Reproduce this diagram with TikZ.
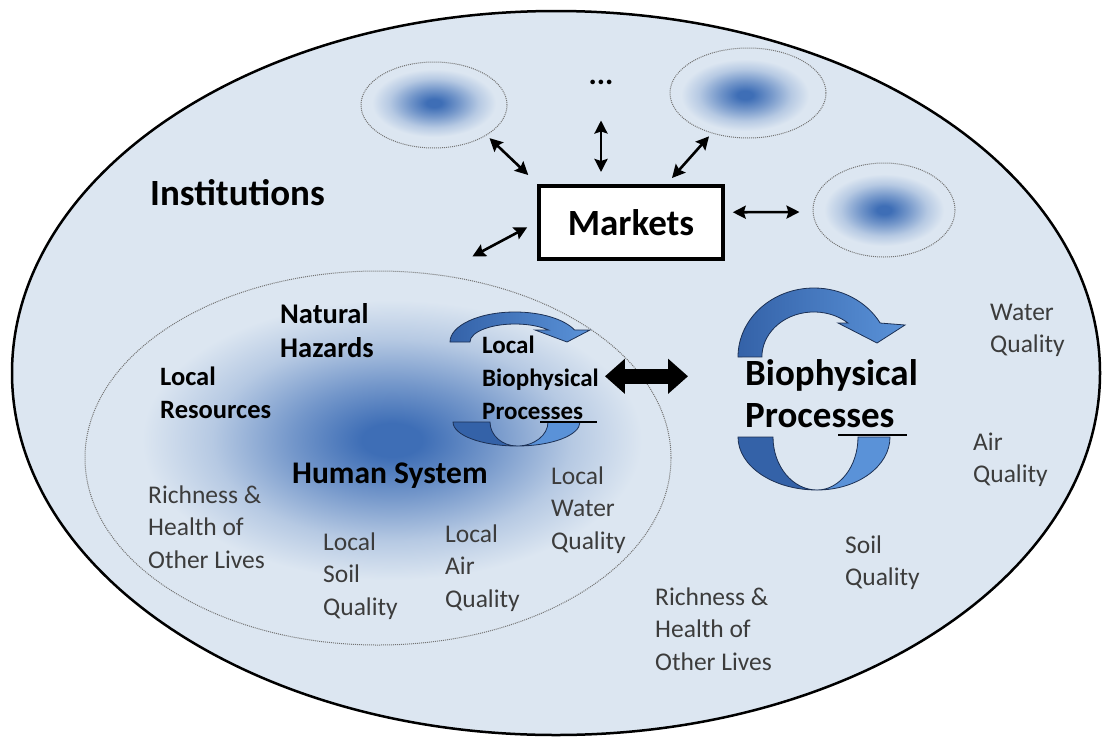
\documentclass[tikz,border=0pt]{standalone}
\usepackage{fontspec}
\setmainfont{Carlito}
\usetikzlibrary{shapes.geometric, arrows.meta, positioning, calc}
\definecolor{instfill}{RGB}{220,230,241}
\definecolor{blobblue}{RGB}{62,110,182}
\colorlet{blobmid}{blobblue!66!instfill}
\colorlet{blobfaint}{blobblue!24!instfill}
\definecolor{arrowdark}{RGB}{52,98,168}
\definecolor{arrowlight}{RGB}{90,146,216}
\definecolor{arrowline}{RGB}{28,48,84}
\definecolor{txtgray}{RGB}{60,60,60}
\pgfdeclareradialshading{blob}{\pgfpoint{0bp}{0bp}}{color(0bp)=(blobblue); color(3bp)=(blobblue); color(10bp)=(blobmid); color(18bp)=(blobfaint); color(25bp)=(instfill); color(50bp)=(instfill)}
\newcommand{\lnstrut}{\rule{0pt}{0.8em}}

\begin{document}
\begin{tikzpicture}[x=1pt, y=-1pt]
    \tikzstyle{sub}=[ellipse, draw=black!55, dash pattern=on 1pt off 1pt, line width=1pt, inner sep=0pt]
    \tikzstyle{link}=[line width=2.6pt, {Stealth[length=13pt,width=13pt,inset=2pt]}-{Stealth[length=13pt,width=13pt,inset=2pt]}]
    \tikzstyle{lbl}=[anchor=north west, inner sep=0pt, align=left, text=txtgray, font=\fontsize{25.5}{32.5}\selectfont]
    \tikzstyle{tag}=[anchor=north west, inner sep=0pt, align=left, text=black, font=\bfseries\fontsize{26.5}{33}\selectfont]
    \tikzstyle{cyc}=[draw=arrowline, line width=0.8pt]

    \useasboundingbox (0,0) rectangle (1107,739);

    % Institutions
    \node[ellipse, draw=black, line width=2.5pt, fill=instfill, inner sep=0pt,
          minimum width=1088pt, minimum height=724pt] (inst) at (556,373) {};
    \node[tag, font=\bfseries\fontsize{37}{40}\selectfont] (instlbl) at (150,175.4) {\lnstrut Institutions};

    % blurred spots
    \shade[shading=blob] (392,440) ellipse [x radius=250, y radius=140];
    \shade[shading=blob] (434,103) ellipse [x radius=62, y radius=34];
    \shade[shading=blob] (745,95) ellipse [x radius=64, y radius=36];
    \shade[shading=blob] (884,210) ellipse [x radius=60, y radius=36];

    % other markets
    \node[sub, minimum width=146pt, minimum height=86pt] (sub1) at (434,105) {};
    \node[sub, minimum width=156pt, minimum height=90pt] (sub2) at (748,93) {};
    \node[sub, minimum width=142pt, minimum height=94pt] (sub3) at (884,210) {};
    \node[inner sep=0pt, font=\bfseries\fontsize{31}{34}\selectfont] (dots) at (601,82) {...};

    % Markets
    \node[draw=black, line width=3.5pt, fill=white, minimum width=184pt, minimum height=73pt,
          font=\bfseries\fontsize{37}{40}\selectfont] (mkt) at (631,222.25) {Markets};

    % Human system
    \node[sub, minimum width=586pt, minimum height=374pt] (hs) at (378,458) {};

    % market links
    \draw[link, shorten <=4pt] (sub1.-30) -- ([shift={(-9,-9)}]mkt.north west);
    \draw[link, shorten <=36pt, shorten >=12pt] (dots.south) -- (dots.south |- mkt.north);
    \draw[link, shorten <=4pt] (sub2.228) -- ([shift={(41,-6)}]mkt.north);
    \draw[link] ([shift={(8,-10)}]mkt.east) -- ([shift={(-13,2)}]sub3.west);
    \draw[link] ([shift={(-10,5)}]mkt.west) -- ([yshift=24pt]hs.62);

    % local cycle
    \draw[cyc, left color=arrowdark, right color=arrowlight] (450,342) arc[start angle=180, end angle=336.4, x radius=65, y radius=30]
        -- (590,330) -- (567,342) -- (535,330) -- (548.5,330)
        arc[start angle=318.2, end angle=180, x radius=45, y radius=18] -- cycle;
    \draw[cyc, fill=arrowdark] (453,422) arc[start angle=180, end angle=90, x radius=64, y radius=24]
        arc[start angle=90, end angle=180, x radius=27, y radius=24] -- cycle;
    \draw[cyc, fill=arrowlight] (580,422) arc[start angle=0, end angle=90, x radius=63, y radius=24]
        arc[start angle=90, end angle=0, x radius=31, y radius=24] -- cycle;
    \draw[line width=1.2pt] (540,422) -- (597,422);

    % big cycle
    \draw[cyc, left color=arrowdark, right color=arrowlight] (738,357) arc[start angle=180, end angle=330.5, x radius=76, y radius=69]
        -- (905,325) -- (877,343) -- (838,323) -- (848,323)
        arc[start angle=311, end angle=180, x radius=52, y radius=45] -- cycle;
    \draw[cyc, fill=arrowdark] (738,437) arc[start angle=180, end angle=90, x radius=79, y radius=53]
        arc[start angle=90, end angle=180, x radius=44, y radius=53] -- cycle;
    \draw[cyc, fill=arrowlight] (890,437) arc[start angle=0, end angle=90, x radius=73, y radius=53]
        arc[start angle=90, end angle=0, x radius=41, y radius=53] -- cycle;
    \draw[line width=1.2pt] (838,435) -- (907,435);

    % labels inside human system
    \node[tag, font=\bfseries\fontsize{28.5}{34}\selectfont] (haz) at (280,300.2) {\lnstrut Natural\\Hazards};
    \node[tag] (res) at (160,363.8) {\lnstrut Local\\Resources};
    \node[tag, font=\bfseries\fontsize{31.5}{36}\selectfont] (human) at (292,457.8) {\lnstrut Human System};
    \node[lbl] (liveL) at (148,482.6) {\lnstrut Richness \&\\Health of\\Other Lives};
    \node[lbl] (soilL) at (323,529.6) {\lnstrut Local\\Soil\\Quality};
    \node[lbl] (airL) at (445,521.6) {\lnstrut Local\\Air\\Quality};
    \node[lbl] (waterL) at (551,463.6) {\lnstrut Local\\Water\\Quality};
    \node[tag, font=\bfseries\fontsize{25}{33}\selectfont] (lbp) at (482,333) {\lnstrut Local\\Biophysical\\Processes};

    % labels outside
    \node[tag, font=\bfseries\fontsize{37}{42}\selectfont] (bp) at (745,355.4) {\lnstrut Biophysical\\Processes};
    \node[lbl] (water) at (990,299.6) {\lnstrut Water\\Quality};
    \node[lbl] (air) at (973,429.6) {\lnstrut Air\\Quality};
    \node[lbl] (soil) at (845,532.6) {\lnstrut Soil\\Quality};
    \node[lbl] (lives) at (655,584.6) {\lnstrut Richness \&\\Health of\\Other Lives};

    % local to global
    \draw[line width=15pt, {Triangle[length=20pt,width=34pt]}-{Triangle[length=20pt,width=34pt]}, shorten >=57pt]
        ([xshift=6pt]lbp.east) -- (lbp.east -| bp.west);
\end{tikzpicture}
\end{document}
